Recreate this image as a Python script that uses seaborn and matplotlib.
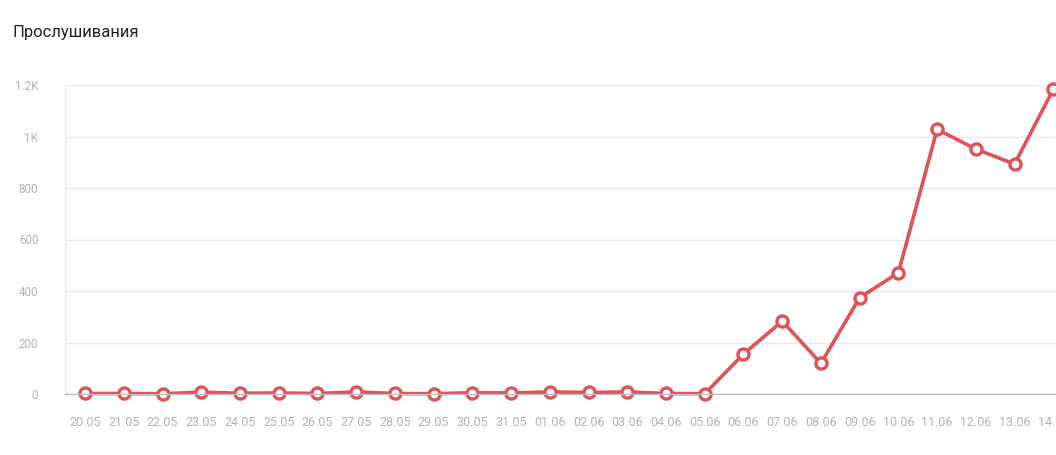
import matplotlib
matplotlib.use("Agg")
import matplotlib.pyplot as plt
import pandas as pd
import seaborn as sns

dates = [
    "20.05", "21.05", "22.05", "23.05", "24.05", "25.05", "26.05", "27.05",
    "28.05", "29.05", "30.05", "31.05", "01.06", "02.06", "03.06", "04.06",
    "05.06", "06.06", "07.06", "08.06", "09.06", "10.06", "11.06", "12.06",
    "13.06", "14.06",
]
plays = [
    2, 2, 1, 7, 3, 4, 2, 8, 2, 1, 5, 4, 8, 6, 8, 2,
    1, 155, 283, 119, 374, 471, 1028, 951, 893, 1183,
]
y_ticks = [0, 200, 400, 600, 800, 1000, 1200]
y_labels = ["0", "200", "400", "600", "800", "1K", "1.2K"]

RED = "#df5259"
GRID = "#e9e9e9"
TICK_TEXT = "#b3b3b3"

sns.set_style("white")
plt.rcParams["font.family"] = ["Roboto", "DejaVu Sans"]

df = pd.DataFrame({"pos": range(len(dates)), "date": dates, "plays": plays})

fig = plt.figure(figsize=(10.56, 4.55), dpi=100)
ax = fig.add_axes([65 / 1056, 61 / 455, 1 - 65 / 1056, 309 / 455])

sns.lineplot(
    data=df, x="pos", y="plays", ax=ax, color=RED, linewidth=2.6,
    marker="o", markersize=8, markerfacecolor="white",
    markeredgecolor=RED, markeredgewidth=2.4, clip_on=False,
)

ax.set_xlim(-0.52, 25.07)
ax.set_ylim(0, 1200)
ax.set_xticks(df["pos"])
ax.set_xticklabels(dates)
ax.set_yticks(y_ticks)
ax.set_yticklabels(y_labels)
ax.set_xlabel("")
ax.set_ylabel("")

ax.grid(axis="y", color=GRID, linewidth=1)
ax.set_axisbelow(True)
for side in ["top", "right"]:
    ax.spines[side].set_visible(False)
ax.spines["left"].set_color(GRID)
ax.spines["left"].set_linewidth(1)
ax.spines["bottom"].set_color("#bdbdbd")
ax.spines["bottom"].set_linewidth(1)

ax.tick_params(axis="y", length=7.2, width=1, color=GRID, pad=12,
               labelsize=8.4, labelcolor=TICK_TEXT)
ax.tick_params(axis="x", length=0, pad=16, labelsize=9, labelcolor=TICK_TEXT)

fig.text(13 / 1056, 1 - 32 / 455, "Прослушивания", fontsize=12,
         color="#222222", va="center", ha="left")

fig.savefig("out.png", dpi=100)
